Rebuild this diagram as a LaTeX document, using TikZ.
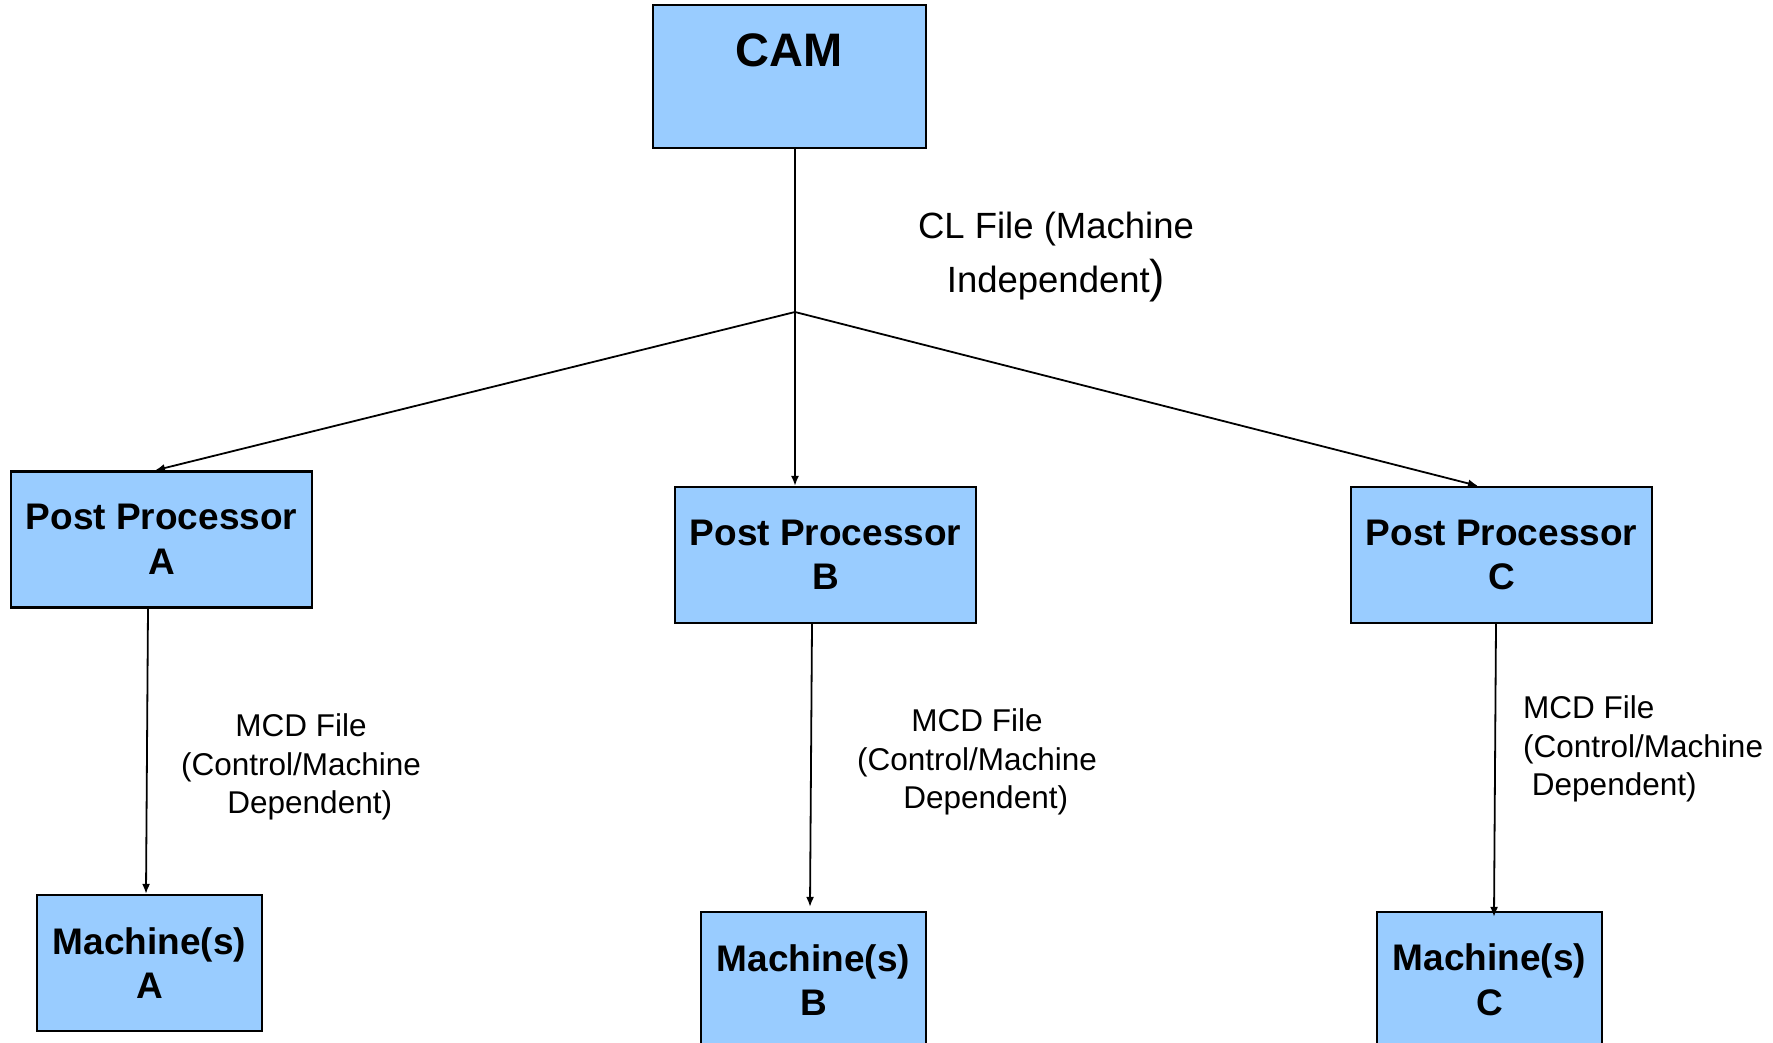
\documentclass[tikz,border=0pt]{standalone}
\usepackage{fontspec}
\setmainfont{Liberation Sans}
\usetikzlibrary{arrows.meta,calc}
\definecolor{boxblue}{HTML}{99CCFF}
\begin{document}
\begin{tikzpicture}[x=1pt,y=-1pt,
  box/.style={draw=black,line width=2.2pt,fill=boxblue,inner sep=0pt,
    align=center,font=\bfseries\fontsize{37}{44.5}\selectfont},
  ppbox/.style={box,minimum width=301pt,minimum height=136pt},
  mbox/.style={box,minimum width=225pt,minimum height=136pt},
  conn/.style={line width=1.8pt,black},
  flow/.style={conn,-{Latex[length=10pt,width=8pt]}},
  note/.style={align=center,inner sep=0pt,font=\fontsize{31.5}{38.5}\selectfont}]
\useasboundingbox (0,0) rectangle (1773,1043);

% source
\node[box,minimum width=273pt,inner ysep=0pt,text height=61.8pt,text depth=81.2pt,
  font=\bfseries\fontsize{47}{50}\selectfont] (cam) at (789.5,76.5) {CAM};

% post processors
\node[ppbox] (ppA) at (161.5,539.5) {Post Processor\\A};
\node[ppbox] (ppB) at (825.5,555) {Post Processor\\B};
\node[ppbox] (ppC) at (1501.5,555) {Post Processor\\C};

% machines
\node[mbox] (mA) at (149.5,963) {Machine(s)\\A};
\node[mbox] (mB) at (813.5,980) {Machine(s)\\B};
\node[mbox] (mC) at (1489.5,980) {Machine(s)\\C};

% branching point of the CL file
\coordinate (J) at (795,312);

\draw[conn] (cam.south -| J) -- (J);
\draw[flow] (J) -- ($(ppA.north)+(-6.5,0)$);
\draw[flow] (J) -- (J |- ppB.north);
\draw[flow] (J) -- ($(ppC.north)+(-23.5,0)$);

\draw[flow] ($(ppA.south)+(-13.5,0)$) -- ($(mA.north)+(-3.5,0)$);
\draw[flow] ($(ppB.south)+(-13.5,0)$) -- ($(mB.north)+(-3.5,-4)$);
\draw[flow] ($(ppC.south)+(-5.5,0)$) -- ($(mC.north)+(4.5,6)$);

% labels
\node[note,font=\fontsize{36.5}{54}\selectfont] (cl) at (1056,257)
  {CL File (Machine\\Independent{\fontsize{46}{46}\selectfont)}};
\node[note] (mcdA) at (301,767) {MCD File\\(Control/Machine\\\ \ Dependent)};
\node[note] (mcdB) at (977,762) {MCD File\\(Control/Machine\\\ \ Dependent)};
\node[note,align=left,anchor=west] (mcdC) at (1523,749)
  {MCD File\\(Control/Machine\\\ Dependent)};
\end{tikzpicture}
\end{document}
